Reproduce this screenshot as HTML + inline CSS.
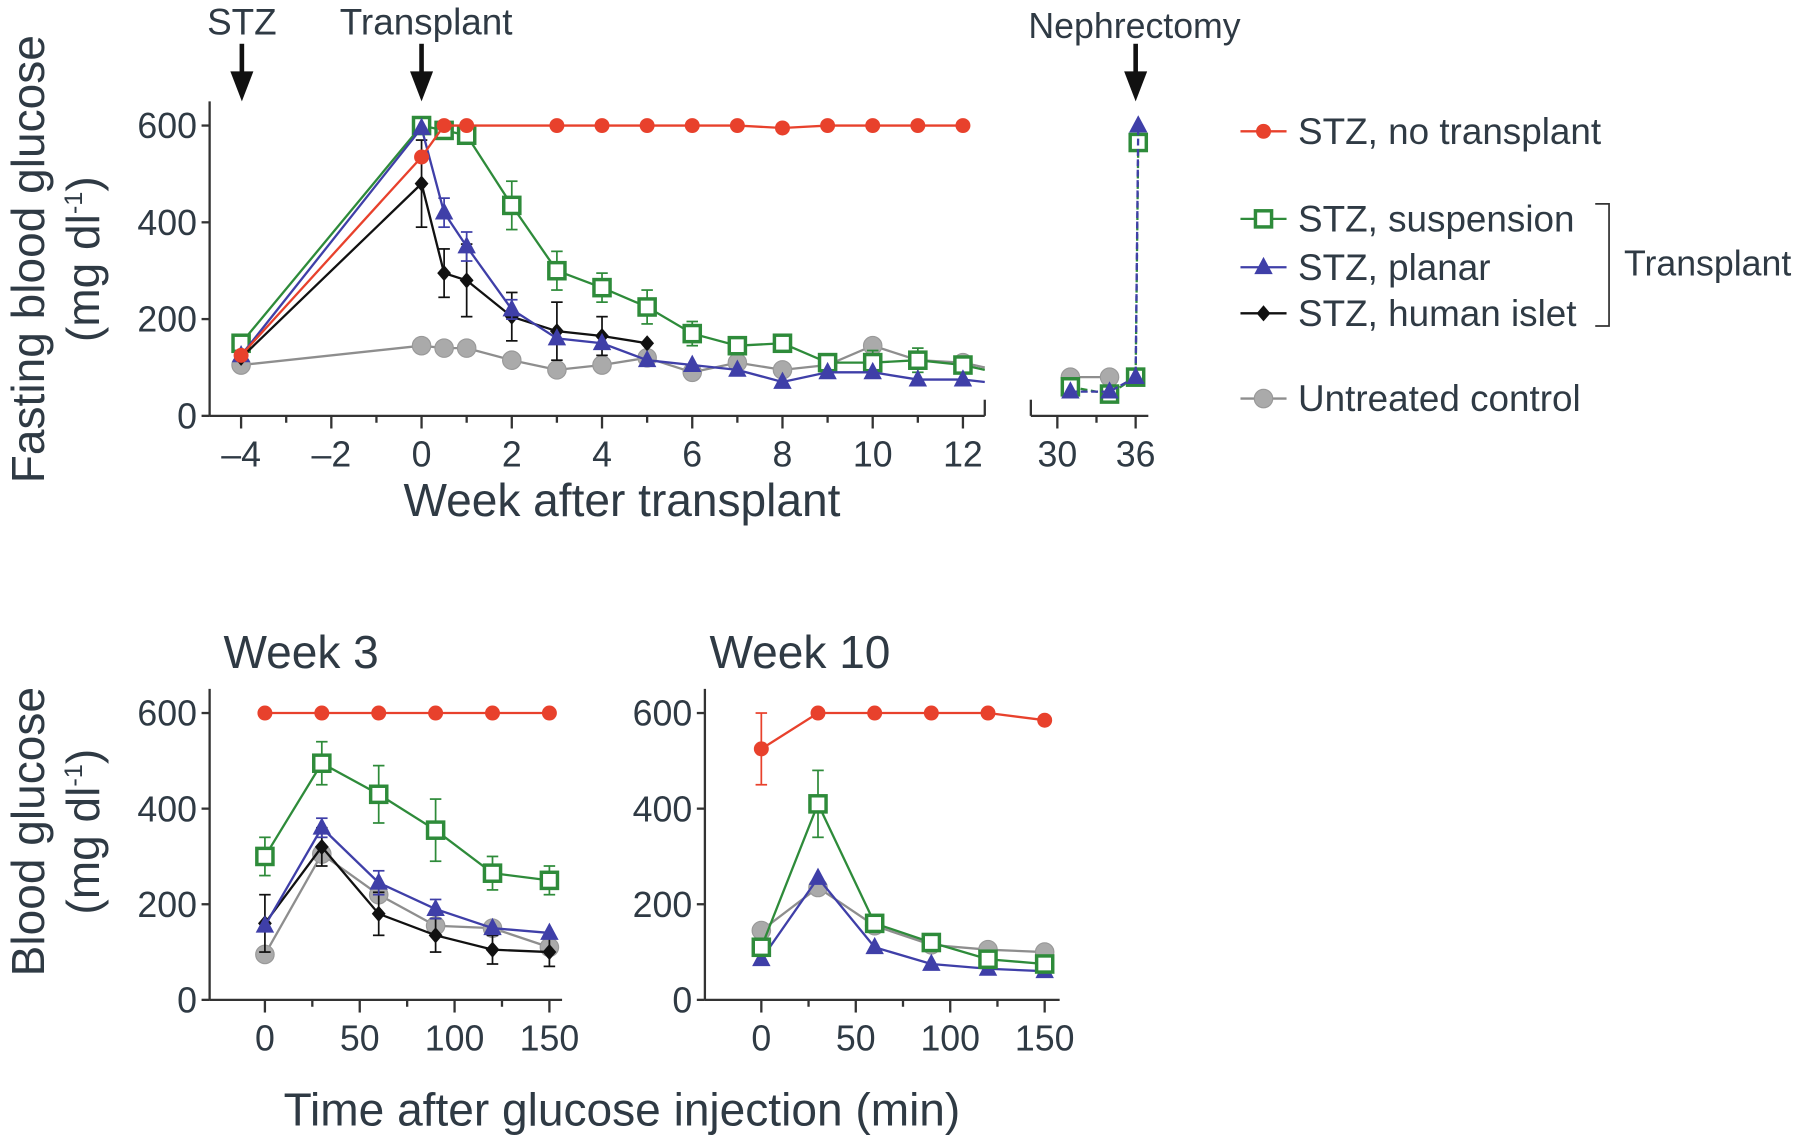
<!DOCTYPE html>
<html><head><meta charset="utf-8"><style>
html,body{margin:0;padding:0;background:#fff;}
svg{display:block;font-family:"Liberation Sans",sans-serif;}
</style></head><body>
<svg id="chart" width="1806" height="1145" viewBox="0 0 1568 994" preserveAspectRatio="none" xmlns="http://www.w3.org/2000/svg"></svg>
<script>
// ---- top chart data (weeks) ----
const redWeeks=[-4,0,0.5,1,3,4,5,6,7,8,9,10,11,12];
const redVals=[125,535,600,600,600,600,600,600,600,595,600,600,600,600];
const greenWeeks=[-4,0,0.5,1,2,3,4,5,6,7,8,9,10,11,12];
const greenVals=[150,600,590,580,435,300,265,225,170,145,150,110,110,115,105];
const greenErr=[0,0,0,15,50,40,30,35,25,0,0,10,25,25,10];
const blueWeeks=[-4,0,0.5,1,2,3,4,5,6,7,8,9,10,11,12];
const blueVals=[125,595,420,350,220,160,150,115,105,95,70,90,90,75,75];
const blueErr=[0,0,30,30,20,0,0,0,0,0,0,0,0,0,0];
const blackWeeks=[-4,0,0.5,1,2,3,4,5];
const blackVals=[120,480,295,280,205,175,165,150];
const blackErr=[0,90,50,75,50,60,40,0];
const greyWeeks=[-4,0,0.5,1,2,3,4,5,6,7,8,9,10,11,12];
const greyVals=[105,145,140,140,115,95,105,120,90,110,95,105,145,115,110];
const greyErr=[10,15,0,0,0,0,0,0,0,0,0,0,0,0,0];
const greenLate=[[31,60],[34,45],[36,80],[36.2,565]];
const blueLate=[[31,50],[34,50],[36,80],[36.2,600]];
const greyLate=[[31,80],[34,80]];
const topXTicks=[-4,-2,0,2,4,6,8,10,12];
const lateXTicks=[30,36];
const yTicks=[0,200,400,600];
// ---- GTT data ----
const gttTimes=[0,30,60,90,120,150];
const w3Red=[600,600,600,600,600,600];
const w3Green=[300,495,430,355,265,250];
const w3GreenErr=[40,45,60,65,35,30];
const w3Blue=[155,360,245,190,150,140];
const w3BlueErr=[0,20,25,20,0,0];
const w3Black=[160,320,180,135,105,100];
const w3BlackErr=[60,40,45,35,30,30];
const w3Grey=[95,305,220,155,150,110];
const w10Red=[525,600,600,600,600,585];
const w10RedErr=[75,0,0,0,0,0];
const w10Green=[110,410,160,120,85,75];
const w10GreenErr=[0,70,0,0,0,0];
const w10Blue=[85,255,110,75,65,60];
const w10Grey=[145,235,155,115,105,100];
const gttXTicks=[0,50,100,150];

const C={red:'#e8412c',green:'#2e8b3a',blue:'#3f3fa8',black:'#111',grey:'#8e8e8e'};
const svg=document.getElementById('chart');
const NS='http://www.w3.org/2000/svg';
function mk(tag,attrs,parent){const e=document.createElementNS(NS,tag);for(const k in attrs)e.setAttribute(k,attrs[k]);(parent||svg).appendChild(e);return e;}
function txt(s,x,y,size,anchor,parent,extra){const t=mk('text',Object.assign({x:x,y:y,'font-size':size,'text-anchor':anchor||'middle',fill:'#2f3a44'},extra||{}),parent);t.textContent=s;return t;}

function marker(g,type,x,y){
  let e;
  if(type==='red'){e=mk('circle',{cx:x,cy:y,r:6.5,fill:C.red},g);}
  else if(type==='green'){e=mk('rect',{x:x-7,y:y-7,width:14,height:14,fill:'#fff',stroke:C.green,'stroke-width':3},g);}
  else if(type==='blue'){e=mk('polygon',{points:`${x},${y-9} ${x+8},${y+6} ${x-8},${y+6}`,fill:C.blue},g);}
  else if(type==='black'){e=mk('polygon',{points:`${x},${y-7} ${x+6},${y} ${x},${y+7} ${x-6},${y}`,fill:C.black},g);}
  else {e=mk('circle',{cx:x,cy:y,r:8,fill:'#aaa',stroke:'#999','stroke-width':1},g);}
  
  
}
function series(name,type,xs,ys,errs,sx,sy,dash){
  const g=mk('g',{});
  
  
  const col=C[type];
  if(errs){xs.forEach((x,i)=>{if(errs[i]>0){const px=sx(x),a=sy(ys[i]-errs[i]),b=sy(ys[i]+errs[i]);
    mk('line',{x1:px,x2:px,y1:a,y2:b,stroke:col,'stroke-width':1.5},g);
    mk('line',{x1:px-5,x2:px+5,y1:a,y2:a,stroke:col,'stroke-width':1.5},g);
    mk('line',{x1:px-5,x2:px+5,y1:b,y2:b,stroke:col,'stroke-width':1.5},g);}});}
  const pts=xs.map((x,i)=>sx(x)+','+sy(ys[i])).join(' ');
  const l=mk('polyline',{points:pts,fill:'none',stroke:col,'stroke-width':2},g);
  if(dash)l.setAttribute('stroke-dasharray',dash);
  xs.forEach((x,i)=>marker(g,type,sx(x),sy(ys[i])));
  return g;
}
function yAxis(x,y0,y600,top){
  const g=mk('g',{});
  
  
  mk('line',{x1:x,x2:x,y1:top,y2:y0,stroke:'#333','stroke-width':2},g);
  yTicks.forEach(v=>{const y=y0+(y600-y0)*v/600;mk('line',{x1:x-7,x2:x,y1:y,y2:y,stroke:'#333','stroke-width':2},g);txt(String(v),x-11,y+11,31,'end',g);});
}
function xAxis(x1,x2,y0,ticks,sx,minor){
  const g=mk('g',{});
  
  
  mk('line',{x1:x1,x2:x2,y1:y0,y2:y0,stroke:'#333','stroke-width':2},g);
  minor.forEach(v=>mk('line',{x1:sx(v),x2:sx(v),y1:y0,y2:y0+6,stroke:'#333','stroke-width':2},g));
  ticks.forEach(v=>{mk('line',{x1:sx(v),x2:sx(v),y1:y0,y2:y0+11,stroke:'#333','stroke-width':2},g);txt(v<0?'\u2013'+(-v):String(v),sx(v),y0+44,31,'middle',g);});
}

// ---- top chart ----
const tY0=361,tY600=109;
const ty=v=>tY0+(tY600-tY0)*v/600;
const tx=w=>366+w*39.17;
const lx=w=>918+(w-30)*11.33;
yAxis(182,tY0,tY600,88);
xAxis(182,855,tY0,topXTicks,tx,[-3,-1,1,3,5,7,9,11]);
mk('line',{x1:855,x2:855,y1:tY0-14,y2:tY0,stroke:'#333','stroke-width':2});
xAxis(895,997,tY0,lateXTicks,lx,[33]);
mk('line',{x1:895,x2:895,y1:tY0-14,y2:tY0,stroke:'#333','stroke-width':2});
mk('line',{x1:tx(12),y1:ty(105),x2:855,y2:ty(95),stroke:C.green,'stroke-width':2});
mk('line',{x1:tx(12),y1:ty(110),x2:855,y2:ty(100),stroke:C.grey,'stroke-width':2});
mk('line',{x1:tx(12),y1:ty(75),x2:855,y2:ty(70),stroke:C.blue,'stroke-width':2});
series('grey-control','grey',greyWeeks,greyVals,greyErr,tx,ty);
series('green-suspension','green',greenWeeks,greenVals,greenErr,tx,ty);
series('black-human-islet','black',blackWeeks,blackVals,blackErr,tx,ty);
series('blue-planar','blue',blueWeeks,blueVals,blueErr,tx,ty);
series('red-no-transplant','red',redWeeks,redVals,null,tx,ty);
series('grey-late','grey',greyLate.map(p=>p[0]),greyLate.map(p=>p[1]),null,lx,ty);
series('green-late','green',greenLate.map(p=>p[0]),greenLate.map(p=>p[1]),null,lx,ty,'6,3');
series('blue-late','blue',blueLate.map(p=>p[0]),blueLate.map(p=>p[1]),null,lx,ty,'6,3');
txt('Week after transplant',540,448,40,'middle');
txt('Fasting blood glucose',38,225,40,'middle',null,{transform:'rotate(-90 38 225)'});
const yt=mk('text',{x:86,y:225,'font-size':40,'text-anchor':'middle',fill:'#2f3a44',transform:'rotate(-90 86 225)'});
const t1=mk('tspan',{},yt);t1.textContent='(mg dl';
const t2=mk('tspan',{'font-size':22,dy:-15},yt);t2.textContent='-1';
const t3=mk('tspan',{dy:15},yt);t3.textContent=')';
// arrows
[['STZ',210,210],['Transplant',370,366],['Nephrectomy',985,986]].forEach((a,i)=>{
  txt(a[0],a[1],i===2?33:30,i===2?31:32,'middle');
  const g=mk('g',{});
  
  
  mk('line',{x1:a[2],x2:a[2],y1:38,y2:70,stroke:'#111','stroke-width':4},g);
  mk('polygon',{points:`${a[2]-10},62 ${a[2]+10},62 ${a[2]},88`,fill:'#111'},g);
});
// legend
const leg=[['red','STZ, no transplant',114],['green','STZ, suspension',190],['blue','STZ, planar',232],['black','STZ, human islet',272],['grey','Untreated control',346]];
leg.forEach(l=>{const g=mk('g',{});
  
  
  mk('line',{x1:1077,x2:1117,y1:l[2],y2:l[2],stroke:C[l[0]],'stroke-width':2},g);
  marker(g,l[0],1097,l[2]);
  txt(l[1],1127,l[2]+11,32,'start',g);});
mk('polyline',{points:'1385,177 1397,177 1397,283 1385,283',fill:'none',stroke:'#333','stroke-width':1.5});
txt('Transplant',1410,239,31,'start');

// ---- bottom charts ----
const bY0=868,bY600=619;
const by=v=>bY0+(bY600-bY0)*v/600;
const bx1=t=>230+t*247/150;
const bx2=t=>661+t*246/150;
yAxis(182,bY0,bY600,598);
xAxis(182,488,bY0,gttXTicks,bx1,[25,75,125]);
yAxis(612,bY0,bY600,598);
xAxis(612,920,bY0,gttXTicks,bx2,[25,75,125]);
series('w3-grey','grey',gttTimes,w3Grey,null,bx1,by);
series('w3-black','black',gttTimes,w3Black,w3BlackErr,bx1,by);
series('w3-blue','blue',gttTimes,w3Blue,w3BlueErr,bx1,by);
series('w3-green','green',gttTimes,w3Green,w3GreenErr,bx1,by);
series('w3-red','red',gttTimes,w3Red,null,bx1,by);
series('w10-grey','grey',gttTimes,w10Grey,null,bx2,by);
series('w10-blue','blue',gttTimes,w10Blue,null,bx2,by);
series('w10-green','green',gttTimes,w10Green,w10GreenErr,bx2,by);
series('w10-red','red',gttTimes,w10Red,w10RedErr,bx2,by);
txt('Week 3',194,580,40,'start');
txt('Week 10',616,580,40,'start');
txt('Time after glucose injection (min)',540,977,40,'middle');
txt('Blood glucose',38,722,40,'middle',null,{transform:'rotate(-90 38 722)'});
const yb=mk('text',{x:86,y:722,'font-size':40,'text-anchor':'middle',fill:'#2f3a44',transform:'rotate(-90 86 722)'});
const b1=mk('tspan',{},yb);b1.textContent='(mg dl';
const b2=mk('tspan',{'font-size':22,dy:-15},yb);b2.textContent='-1';
const b3=mk('tspan',{dy:15},yb);b3.textContent=')';
</script>
</body></html>
